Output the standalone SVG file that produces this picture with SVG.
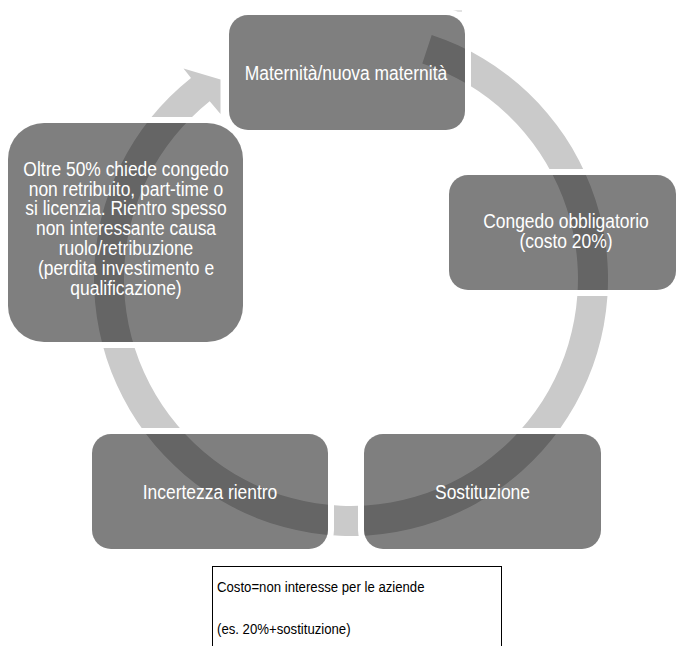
<svg xmlns="http://www.w3.org/2000/svg" width="680" height="646" viewBox="0 0 680 646">
  <style>
    .halo { fill: none; stroke: #ffffff; stroke-width: 6; }
    .box { fill: #000000; fill-opacity: 0.5; }
    .lbl { font-family: "Liberation Sans", Arial, sans-serif; font-size: 21px; fill: #ffffff; text-anchor: middle; }
    .note { font-family: "Liberation Sans", Arial, sans-serif; font-size: 15.5px; fill: #000000; }
  </style>
  <rect x="0" y="0" width="680" height="646" fill="#ffffff"/>
  <line x1="242" y1="11" x2="462" y2="11" stroke="#d9d9d9" stroke-width="1.3"/>

  <g id="connectors">
    <path id="cycle-arrow" fill="#cacaca" d="M 431.7 35.0 A 257 257 0 1 1 191.0 77.9 L 183.5 68.5 L 220.5 79.5 L 220.5 114 L 209.7 101.3 A 227 227 0 1 0 422.3 63.5 Z"/>
  </g>

  <g id="node-maternita">
    <rect class="halo" x="226" y="12" width="242" height="121" rx="22"/>
    <rect class="box" x="229" y="15" width="236" height="115" rx="19"/>
    <text class="lbl" transform="translate(346,0) scale(0.83,1)" x="0" y="80.5">Maternità/nuova maternità</text>
  </g>

  <g id="node-congedo">
    <rect class="halo" x="446" y="172" width="233" height="121" rx="22"/>
    <rect class="box" x="449" y="175" width="227" height="115" rx="19"/>
    <text class="lbl" transform="translate(566,0) scale(0.83,1)"><tspan x="0" y="228.3">Congedo obbligatorio</tspan><tspan x="0" y="248.3">(costo 20%)</tspan></text>
  </g>

  <g id="node-sostituzione">
    <rect class="halo" x="361" y="431" width="243" height="121" rx="22"/>
    <rect class="box" x="364" y="434" width="237" height="115" rx="19"/>
    <text class="lbl" transform="translate(482.5,0) scale(0.83,1)" x="0" y="499">Sostituzione</text>
  </g>

  <g id="node-incertezza">
    <rect class="halo" x="89" y="431" width="242" height="121" rx="22"/>
    <rect class="box" x="92" y="434" width="236" height="115" rx="19"/>
    <text class="lbl" transform="translate(210,0) scale(0.83,1)" x="0" y="499">Incertezza rientro</text>
  </g>

  <g id="node-oltre">
    <rect class="halo" x="5" y="120" width="241" height="225" rx="39"/>
    <rect class="box" x="8" y="123" width="235" height="219" rx="36"/>
    <text class="lbl" transform="translate(126,0) scale(0.83,1)"><tspan x="0" y="175.7">Oltre 50% chiede congedo</tspan><tspan x="0" y="195.6">non retribuito, part-time o</tspan><tspan x="0" y="215.5">si licenzia. Rientro spesso</tspan><tspan x="0" y="235.4">non interessante causa</tspan><tspan x="0" y="255.2">ruolo/retribuzione</tspan><tspan x="0" y="275.1">(perdita investimento e</tspan><tspan x="0" y="295">qualificazione)</tspan></text>
  </g>

  <g id="node-nota">
    <rect x="212.5" y="566.5" width="289" height="100" fill="#ffffff" stroke="#000000" stroke-width="1"/>
    <text class="note" transform="translate(217,0) scale(0.85,1)"><tspan x="0" y="592.5">Costo=non interesse per le aziende</tspan><tspan x="0" y="634">(es. 20%+sostituzione)</tspan></text>
  </g>
</svg>
